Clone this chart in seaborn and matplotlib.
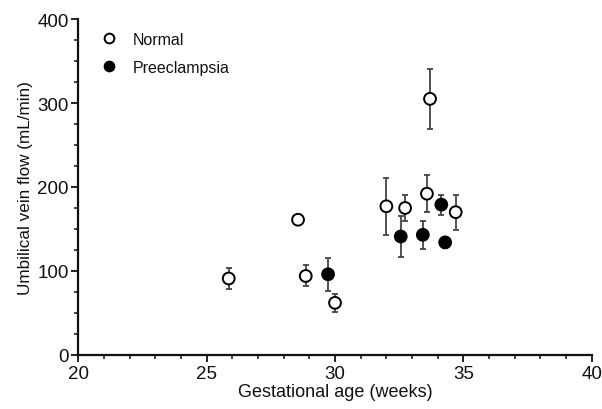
import numpy as np
import pandas as pd
import matplotlib.pyplot as plt
from matplotlib.ticker import MultipleLocator
import seaborn as sns

# Datos (media y error)
normal_age = [25.86, 28.56, 28.86, 30.0, 32.0, 32.73, 33.58, 33.7, 34.7]
normal_flow = [91, 161, 94, 62, 177, 175, 192, 305, 170]
normal_err = [13, 0, 12.5, 10.5, 34, 16, 22, 36, 21]

pre_age = [29.73, 32.56, 33.42, 34.14, 34.29]
pre_flow = [96, 141, 143, 179, 134]
pre_err = [19.5, 24, 17, 12, 7]

df = pd.DataFrame({
    'age': normal_age + pre_age,
    'flow': normal_flow + pre_flow,
    'err': normal_err + pre_err,
    'grupo': ['Normal'] * len(normal_age) + ['Preeclampsia'] * len(pre_age),
})

sns.set_theme(style='ticks')
plt.rcParams['font.family'] = ['Liberation Sans', 'DejaVu Sans']
plt.rcParams['text.color'] = '#111111'
plt.rcParams['axes.labelcolor'] = '#111111'
plt.rcParams['xtick.color'] = '#111111'
plt.rcParams['ytick.color'] = '#111111'
plt.rcParams['axes.edgecolor'] = '#111111'

fig = plt.figure(figsize=(6.02, 4.10), dpi=100)
ax = fig.add_axes([0.13, 0.132, 0.853, 0.819])

# Barras de error primero
for g, sub in df.groupby('grupo'):
    ax.errorbar(sub['age'], sub['flow'], yerr=sub['err'], fmt='none',
                ecolor='#444444', elinewidth=1.3, capsize=2, capthick=1.3, zorder=2)

sns.scatterplot(data=df, x='age', y='flow', hue='grupo', style='grupo',
                palette={'Normal': 'white', 'Preeclampsia': 'black'},
                markers={'Normal': 'o', 'Preeclampsia': 'o'},
                edgecolor='black', linewidth=1.4, s=72, zorder=3, ax=ax)

ax.set_xlim(20, 40)
ax.set_ylim(0, 400)
ax.xaxis.set_major_locator(MultipleLocator(5))
ax.xaxis.set_minor_locator(MultipleLocator(1))
ax.yaxis.set_major_locator(MultipleLocator(100))
ax.yaxis.set_minor_locator(MultipleLocator(25))
ax.tick_params(which='major', length=5, width=1.3, labelsize=13.5, pad=2)
ax.tick_params(which='minor', length=3, width=1.1)
for s in ['left', 'bottom']:
    ax.spines[s].set_linewidth(1.6)
sns.despine(ax=ax)

ax.set_xlabel('Gestational age (weeks)', fontsize=13, labelpad=1)
ax.set_ylabel('Umbilical vein flow (mL/min)', fontsize=12.3, labelpad=3)

leg = ax.legend(title=None, loc='upper left', frameon=False, fontsize=11.5,
                bbox_to_anchor=(0.0, 1.005), handletextpad=0.5, labelspacing=0.8)
for h in leg.legend_handles:
    h.set_markeredgecolor('black')
    h.set_markersize(7)

fig.savefig('out.png', dpi=100)
